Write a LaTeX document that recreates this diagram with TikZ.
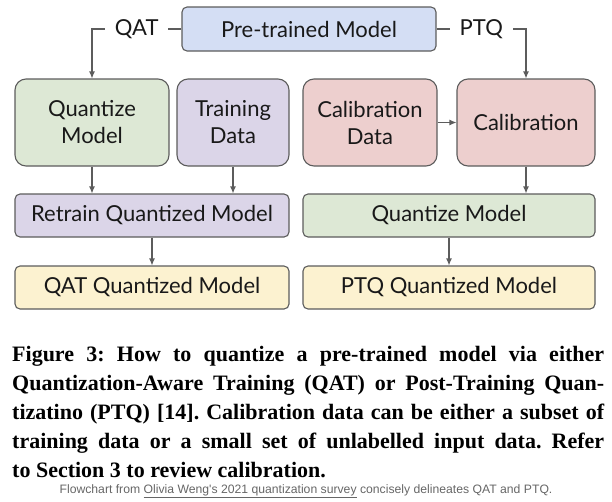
\documentclass[tikz,border=0pt]{standalone}
\usepackage{fontspec}
\setmainfont{Liberation Serif}
\newfontfamily\boxfont{Lato}
\newfontfamily\notefont{Liberation Sans}
\usetikzlibrary{arrows.meta}
\definecolor{edge}{HTML}{5C5C5C}
\definecolor{qblue}{HTML}{D4DEF4}
\definecolor{qgreen}{HTML}{DDE8D5}
\definecolor{qpurple}{HTML}{DBD5E8}
\definecolor{qpink}{HTML}{EDCFCE}
\definecolor{qyellow}{HTML}{FCF2D0}
\frenchspacing
\begin{document}
\begin{tikzpicture}[x=1pt,y=1pt]
    \tikzstyle{every node}+=[inner sep=0pt]
    \tikzstyle{box}=[draw=edge, line width=1.1pt, rounded corners=5pt, align=center, text=black!90, font=\boxfont\fontsize{22}{27}\selectfont]
    \tikzstyle{big}=[box, rounded corners=11pt, minimum height=87]
    \tikzstyle{wide}=[box, minimum height=43]
    \tikzstyle{link}=[draw=edge, line width=1.1pt, -{Latex[length=7pt,width=6pt]}]
    \tikzstyle{tag}=[fill=white, inner xsep=10pt, text=black!90, font=\boxfont\fontsize{22}{26}\selectfont]
    \useasboundingbox (0,0) rectangle (612,-501);
    \node [box, fill=qblue, minimum width=254, minimum height=44] (pre) at (309,-29) {Pre-trained Model};
    \node [big, fill=qgreen, minimum width=154] (quant) at (92,-122.5) {Quantize\\Model};
    \node [big, fill=qpurple, minimum width=112] (train) at (233,-122.5) {Training\\Data};
    \node [big, fill=qpink, minimum width=134] (caldata) at (370,-122.5) {Calibration\\Data};
    \node [big, fill=qpink, minimum width=138] (calib) at (526,-122.5) {Calibration};
    \node [wide, fill=qpurple, minimum width=274] (retrain) at (152,-215.5) {Retrain Quantized Model};
    \node [wide, fill=qgreen, minimum width=292] (quant2) at (449,-215.5) {Quantize Model};
    \node [wide, fill=qyellow, minimum width=274] (qatout) at (152,-287.5) {QAT Quantized Model};
    \node [wide, fill=qyellow, minimum width=292] (ptqout) at (449,-287.5) {PTQ Quantized Model};
    \draw [link] (pre.west) -- node [tag] (qat) {QAT} (pre.west -| quant.north) -- (quant.north);
    \draw [link] (pre.east) -- node [tag] (ptq) {PTQ} (pre.east -| calib.north) -- (calib.north);
    \draw [link] (quant.south) -- (quant.south |- retrain.north);
    \draw [link] (train.south) -- (train.south |- retrain.north);
    \draw [link] (retrain.south) -- (qatout.north);
    \draw [link] (caldata.east) -- (calib.west);
    \draw [link] (calib.south) -- (calib.south |- quant2.north);
    \draw [link] (quant2.south) -- (ptqout.north);
    \node [anchor=north west, text width=592pt, align=justify, font=\bfseries\fontsize{22}{29}\selectfont] (caption) at (12,-346.5) {\hyphenpenalty=10000 Figure 3: How to quantize a pre-trained model via either\linebreak Quantization-Aware Training (QAT) or Post-Training Quan-\linebreak tizatino (PTQ) [14]. Calibration data can be either a subset of\linebreak training data or a small set of unlabelled input data. Refer\linebreak to Section 3 to review calibration.};
    \node [text=black!60, font=\notefont\fontsize{12.2}{14}\selectfont] (note) at (306,-491) {Flowchart from \underline{Olivia Weng's 2021 quantization survey} concisely delineates QAT and PTQ.};
\end{tikzpicture}
\end{document}
